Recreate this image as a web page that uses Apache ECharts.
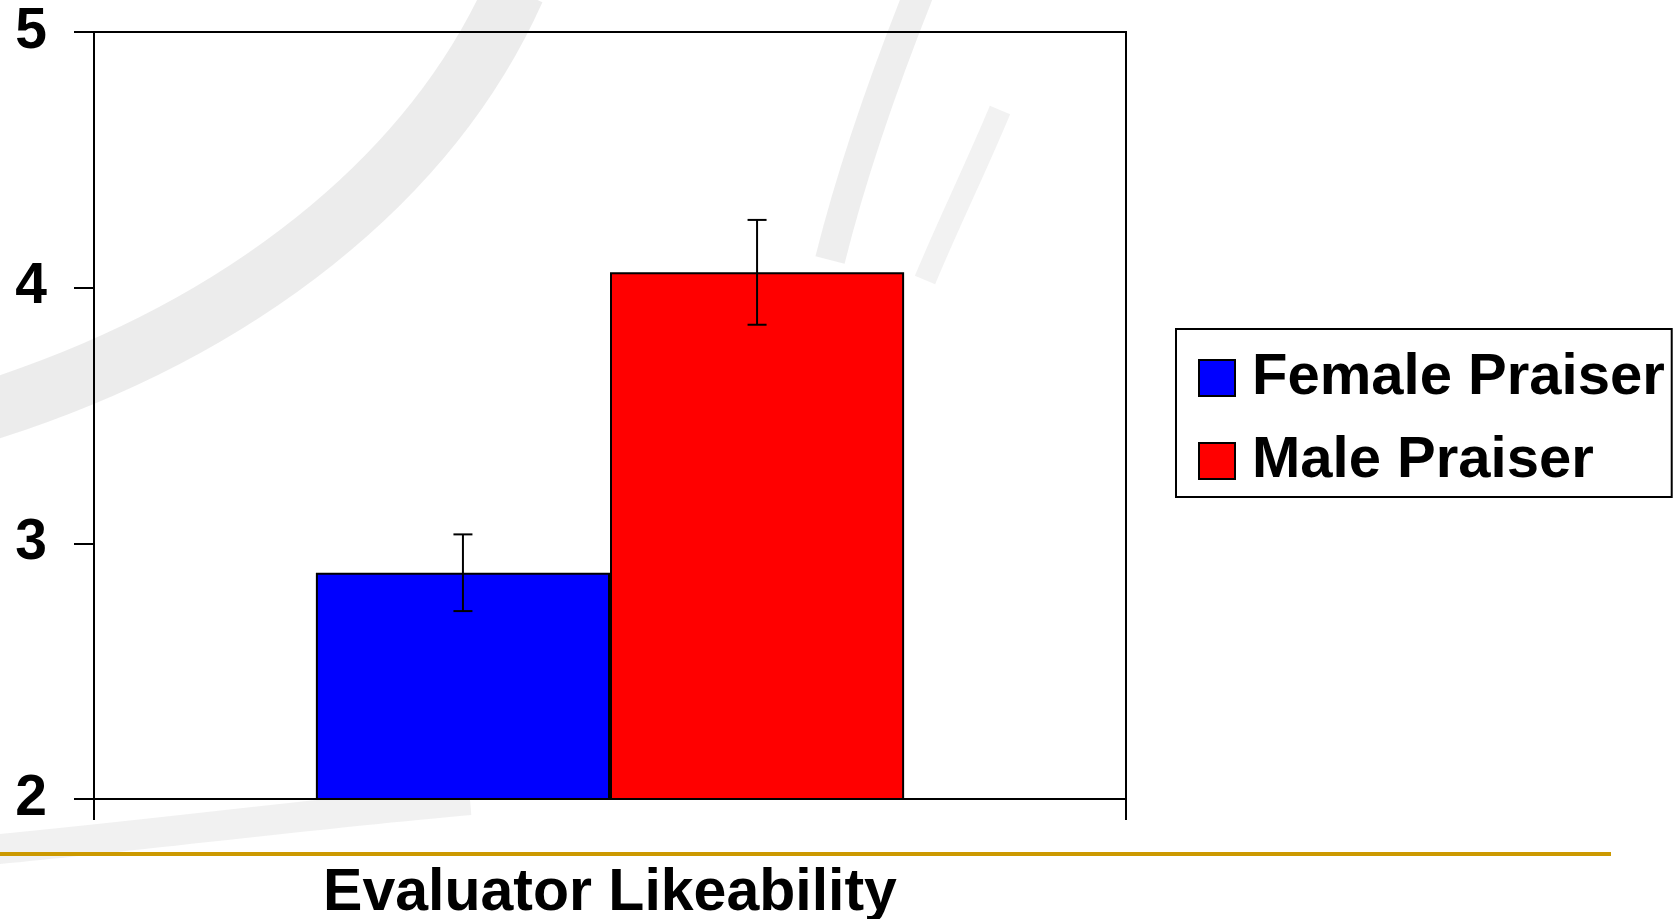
<!DOCTYPE html>
<html>
<head>
<meta charset="utf-8">
<script src="https://cdn.jsdelivr.net/npm/echarts@6/dist/echarts.min.js"></script>
<style>
html,body{margin:0;padding:0;background:#fff;}
#c{width:1674px;height:919px;}
</style>
</head>
<body>
<div id="c"></div>
<script>
const categories = ['Evaluator Likeability'];
const seriesNames = ['Female Praiser', 'Male Praiser'];
const femaleValues = [2.885];
const maleValues = [4.06];
const femaleErrors = [0.15];
const maleErrors = [0.205];
const yTicks = [2, 3, 4, 5];

const FONT = '"Liberation Sans", Arial, sans-serif';
const BAR_FRAC = 0.285;

const errData = [];
categories.forEach((c, i) => {
  errData.push([i, femaleValues[i] - femaleErrors[i], femaleValues[i] + femaleErrors[i], 0]);
  errData.push([i, maleValues[i] - maleErrors[i], maleValues[i] + maleErrors[i], 1]);
});

const chart = echarts.init(document.getElementById('c'), null, {renderer: 'canvas'});
chart.setOption({
  backgroundColor: '#fff',
  animation: false,
  graphic: [
    {type: 'bezierCurve', z: -10, silent: true,
      shape: {x1: -10, y1: 410, cpx1: 240, cpy1: 330, cpx2: 430, cpy2: 180, x2: 515, y2: -10},
      style: {stroke: '#e6e6e6', lineWidth: 60, fill: null, opacity: 0.75}},
    {type: 'bezierCurve', z: -10, silent: true,
      shape: {x1: 920, y1: -10, cpx1: 880, cpy1: 90, cpx2: 850, cpy2: 180, x2: 830, y2: 260},
      style: {stroke: '#e8e8e8', lineWidth: 30, fill: null, opacity: 0.75}},
    {type: 'bezierCurve', z: -10, silent: true,
      shape: {x1: 1000, y1: 110, cpx1: 975, cpy1: 170, cpx2: 950, cpy2: 220, x2: 925, y2: 280},
      style: {stroke: '#eeeeee', lineWidth: 22, fill: null, opacity: 0.75}},
    {type: 'bezierCurve', z: -10, silent: true,
      shape: {x1: -10, y1: 850, cpx1: 150, cpy1: 835, cpx2: 300, cpy2: 815, x2: 470, y2: 800},
      style: {stroke: '#ececec', lineWidth: 30, fill: null, opacity: 0.75}},
    {type: 'line', z: 10, silent: true,
      shape: {x1: 0, y1: 854, x2: 1611, y2: 854},
      style: {stroke: '#CC9900', lineWidth: 4}}
  ],
  grid: {
    left: 94, top: 32, right: 548, bottom: 120,
    containLabel: false,
    outerBoundsMode: 'none',
    show: true, borderColor: '#000', borderWidth: 2, backgroundColor: 'transparent'
  },
  legend: {
    data: seriesNames,
    orient: 'vertical',
    left: 1176, top: 329,
    padding: [20, 7, 7, 22],
    itemGap: 25,
    itemWidth: 36, itemHeight: 36,
    icon: 'rect',
    borderColor: '#000', borderWidth: 2,
    backgroundColor: '#fff',
    itemStyle: {borderColor: '#000', borderWidth: 2},
    textStyle: {fontFamily: FONT, fontWeight: 'bold', fontSize: 58, color: '#000', padding: [0, 0, 0, 12]}
  },
  xAxis: {
    type: 'category',
    data: categories,
    axisLine: {show: true, lineStyle: {color: '#000', width: 2}},
    axisTick: {show: true, length: 21, lineStyle: {color: '#000', width: 2}},
    axisLabel: {fontFamily: FONT, fontWeight: 'bold', fontSize: 59, color: '#000', margin: 65},
    splitLine: {show: false}
  },
  yAxis: {
    type: 'value',
    min: yTicks[0], max: yTicks[yTicks.length - 1], interval: 1,
    axisLine: {show: true, lineStyle: {color: '#000', width: 2}},
    axisTick: {show: true, length: 20, lineStyle: {color: '#000', width: 2}},
    axisLabel: {fontFamily: FONT, fontWeight: 'bold', fontSize: 57, color: '#000', margin: 47},
    splitLine: {show: false}
  },
  series: [
    {name: seriesNames[0], type: 'bar', data: femaleValues, barWidth: (BAR_FRAC * 100) + '%', barGap: '0%',
      itemStyle: {color: '#0000FF', borderColor: '#000', borderWidth: 2}},
    {name: seriesNames[1], type: 'bar', data: maleValues, barWidth: (BAR_FRAC * 100) + '%', barGap: '0%',
      itemStyle: {color: '#FF0000', borderColor: '#000', borderWidth: 2}},
    {type: 'custom', z: 5, data: errData, encode: {x: 0, y: [1, 2]},
      renderItem: function (params, api) {
        const ci = api.value(0);
        const lo = api.coord([ci, api.value(1)]);
        const hi = api.coord([ci, api.value(2)]);
        const bw = api.size([1, 0])[0] * BAR_FRAC;
        const x = lo[0] + (api.value(3) === 0 ? -bw / 2 : bw / 2);
        const cap = 9.5;
        const st = {stroke: '#000', lineWidth: 2};
        return {type: 'group', children: [
          {type: 'line', shape: {x1: x, y1: lo[1], x2: x, y2: hi[1]}, style: st},
          {type: 'line', shape: {x1: x - cap, y1: lo[1], x2: x + cap, y2: lo[1]}, style: st},
          {type: 'line', shape: {x1: x - cap, y1: hi[1], x2: x + cap, y2: hi[1]}, style: st}
        ]};
      }}
  ]
});
</script>
</body>
</html>
